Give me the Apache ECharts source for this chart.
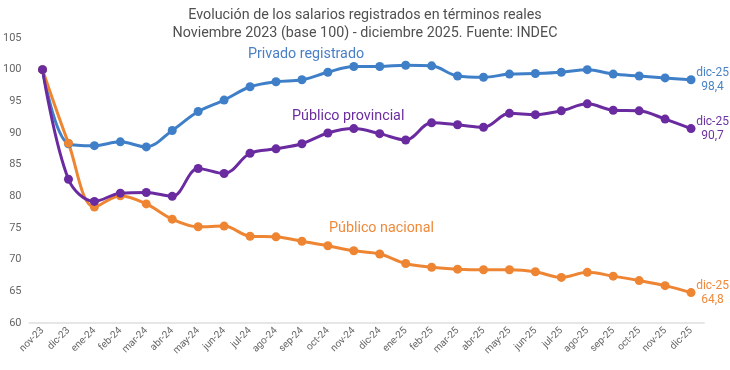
<!DOCTYPE html>
<html><head><meta charset="utf-8">
<script src="https://cdn.jsdelivr.net/npm/echarts@6/dist/echarts.min.js"></script>
<style>html,body{margin:0;padding:0;background:#fff}#c{width:730px;height:370px}</style>
</head><body><div id="c"></div>
<script>
const categories = ['nov-23','dic-23','ene-24','feb-24','mar-24','abr-24','may-24','jun-24','jul-24','ago-24','sep-24','oct-24','nov-24','dic-24','ene-25','feb-25','mar-25','abr-25','may-25','jun-25','jul-25','ago-25','sep-25','oct-25','nov-25','dic-25'];
const privado = [100,88.3,88.0,88.6,87.8,90.4,93.4,95.2,97.3,98.1,98.4,99.6,100.5,100.5,100.7,100.6,99.0,98.8,99.3,99.4,99.6,100.0,99.3,99.0,98.7,98.4];
const nacional = [100,88.4,78.3,80.1,78.8,76.4,75.2,75.3,73.7,73.6,72.9,72.2,71.4,70.9,69.4,68.8,68.5,68.4,68.4,68.1,67.2,68.0,67.4,66.7,65.9,64.8];
const provincial = [100,82.7,79.2,80.5,80.6,80.0,84.4,83.6,86.8,87.5,88.3,90.0,90.7,89.9,88.9,91.6,91.3,90.9,93.1,92.9,93.5,94.6,93.6,93.5,92.2,90.7];
const yTicks = [60,65,70,75,80,85,90,95,100,105];

const font = 'Roboto';
function mk(name, vals, color, labelColor) {
  const last = vals.length - 1;
  return {
    name, type: 'line', smooth: 0.35, symbol: 'circle', symbolSize: 9,
    lineStyle: {width: 3, color}, itemStyle: {color},
    data: vals.map((v, i) => i === last ? {
      value: v,
      label: {show: true, position: 'right', distance: 4, align: 'center', offset: [13, 0],
        color: labelColor, fontFamily: font, fontSize: 12, lineHeight: 14,
        formatter: () => categories[last] + '\n' + String(v).replace('.', ',')}
    } : v)
  };
}
const chart = echarts.init(document.getElementById('c'));
chart.setOption({
  animation: false,
  title: {text: 'Evolución de los salarios registrados en términos reales\nNoviembre 2023 (base 100) - diciembre 2025. Fuente: INDEC',
    left: 'center', top: 1, textStyle: {fontFamily: font, fontSize: 14.3, fontWeight: 'normal', color: '#505050', lineHeight: 18}},
  grid: {left: 28, right: 26, top: 38, bottom: 47},
  xAxis: {type: 'category', data: categories, boundaryGap: true,
    axisLine: {lineStyle: {color: '#e6e6e6', width: 2}}, axisTick: {show: false},
    axisLabel: {rotate: 45, fontFamily: font, fontSize: 10, color: '#666', margin: 6, interval: 0}},
  yAxis: {type: 'value', min: 60, max: 105, interval: 5,
    splitLine: {show: false}, axisLine: {show: false}, axisTick: {show: false},
    axisLabel: {fontFamily: font, fontSize: 11, color: '#666', margin: 8,
      formatter: v => yTicks.includes(v) ? String(v) : ''}},
  graphic: [
    {type: 'text', left: 248, top: 47, style: {text: 'Privado registrado', fill: '#4a7fc4', font: '14.3px Roboto'}},
    {type: 'text', left: 292, top: 109, style: {text: 'Público provincial', fill: '#6a2c9f', font: '14.3px Roboto'}},
    {type: 'text', left: 329, top: 221, style: {text: 'Público nacional', fill: '#ee8a3c', font: '14.3px Roboto'}}
  ],
  series: [
    mk('Privado registrado', privado, '#3f7fc8', '#4a84c6'),
    mk('Público nacional', nacional, '#ee8533', '#ee8a3c'),
    mk('Público provincial', provincial, '#6a2aa0', '#6e35a2')
  ]
});
</script></body></html>
